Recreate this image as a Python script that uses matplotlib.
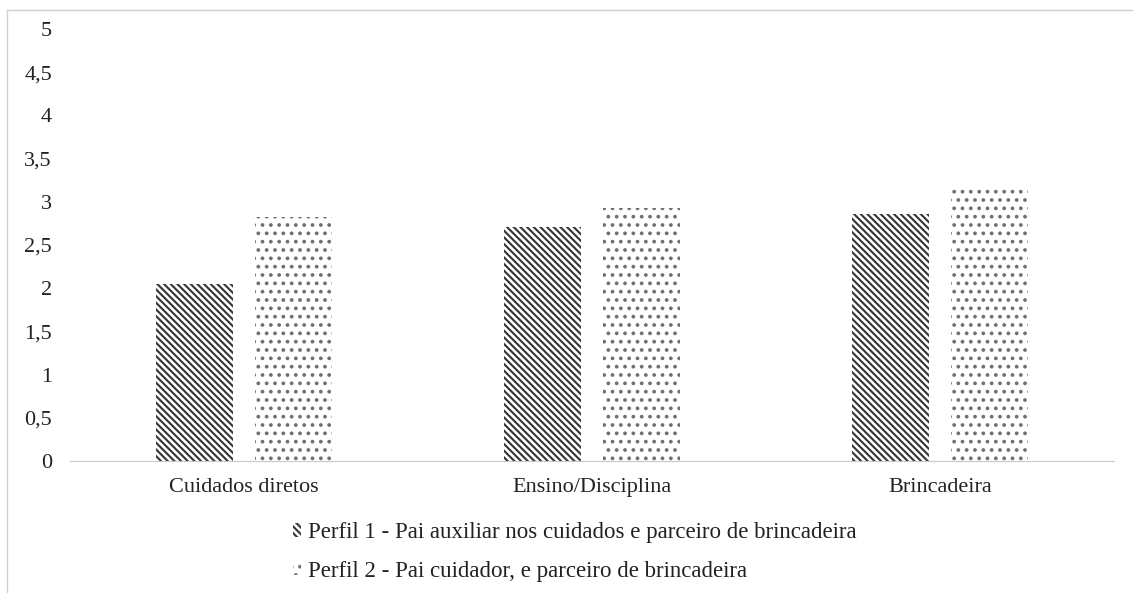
import matplotlib.pyplot as plt
import matplotlib.patches as mpatches
from matplotlib.lines import Line2D
import numpy as np

plt.rcParams['font.family'] = ['Liberation Serif', 'DejaVu Serif']
plt.rcParams['hatch.linewidth'] = 1.5

categorias = ['Cuidados diretos', 'Ensino/Disciplina', 'Brincadeira']
perfil1 = [2.05, 2.71, 2.86]
perfil2 = [2.82, 2.93, 3.15]
rotulos = ['Perfil 1 - Pai auxiliar nos cuidados e parceiro de brincadeira',
           'Perfil 2 - Pai cuidador, e parceiro de brincadeira']
yticks = [0, 0.5, 1, 1.5, 2, 2.5, 3, 3.5, 4, 4.5, 5]
ylabels = ['0', '0,5', '1', '1,5', '2', '2,5', '3', '3,5', '4', '4,5', '5']

fig = plt.figure(figsize=(11.33, 5.93), dpi=100)
ax = fig.add_axes([70 / 1133, 1 - 461 / 593, 1044 / 1133, 432 / 593])

x = np.arange(len(categorias))
w = 0.22
h1 = '\\\\\\\\\\'
h2 = '..'
cor1 = '#333333'
cor2 = '#707070'
ax.bar(x - 0.143, perfil1, w, color='white', edgecolor=cor1, linewidth=0, hatch=h1)
ax.bar(x + 0.143, perfil2, w, color='white', edgecolor=cor2, linewidth=0, hatch=h2)

ax.set_xlim(-0.5, 2.5)
ax.set_ylim(0, 5)
ax.set_yticks(yticks)
ax.set_yticklabels(ylabels)
ax.set_xticks(x)
ax.set_xticklabels(categorias)
ax.tick_params(length=0, labelsize=16, colors='#222222')
ax.tick_params(axis='x', pad=12)
ax.tick_params(axis='y', pad=13)
for s in ['top', 'right', 'left']:
    ax.spines[s].set_visible(False)
ax.spines['bottom'].set_color('#c8c8c8')

# legenda abaixo do eixo, uma entrada por linha
handles = [mpatches.Patch(facecolor='white', edgecolor=cor1, linewidth=0, hatch=h1),
           mpatches.Patch(facecolor='white', edgecolor=cor2, linewidth=0, hatch=h2)]
fig.legend(handles, rotulos, loc='center', bbox_to_anchor=(575 / 1133, 1 - 552 / 593),
           ncol=1, frameon=False, fontsize=16.5, handlelength=0.35, handleheight=0.55,
           handletextpad=0.3, labelspacing=0.75, labelcolor='#222222')

# moldura cinza à esquerda e no topo
fig.add_artist(Line2D([7 / 1133, 7 / 1133], [0, 1 - 10 / 593], color='#d0d0d0', lw=1))
fig.add_artist(Line2D([7 / 1133, 1], [1 - 10 / 593, 1 - 10 / 593], color='#d0d0d0', lw=1))

fig.savefig('out.png', dpi=100)
